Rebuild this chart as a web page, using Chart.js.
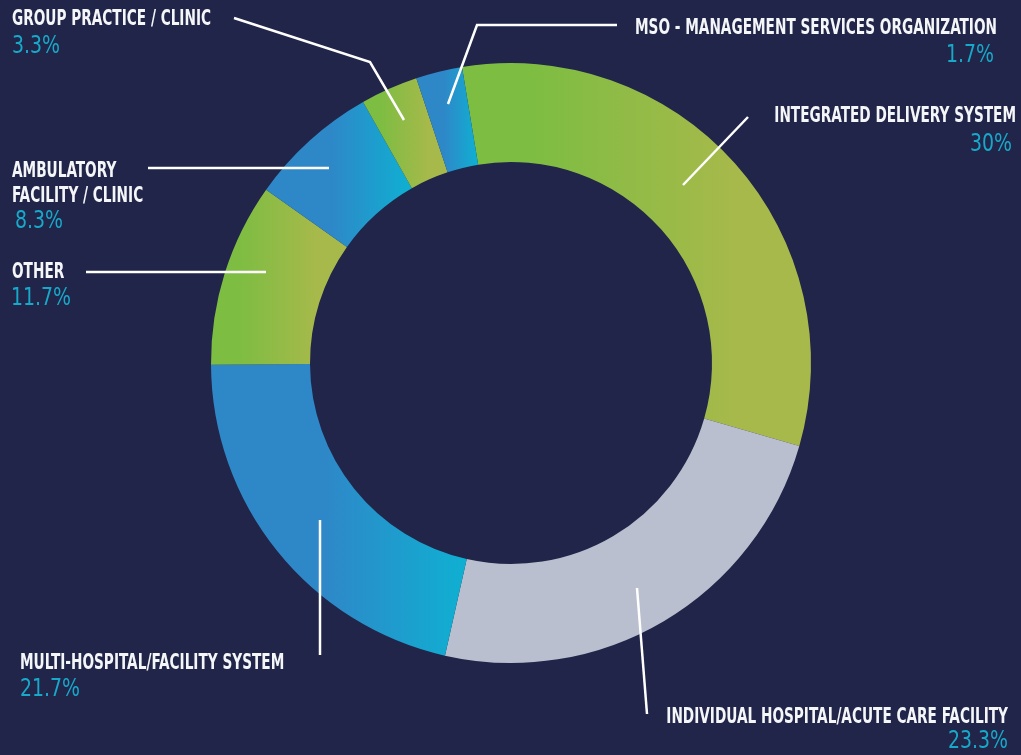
<!DOCTYPE html>
<html>
<head>
<meta charset="utf-8">
<script src="https://cdn.jsdelivr.net/npm/chart.js@4"></script>
<style>
  html, body { margin: 0; padding: 0; background: #21254a; }
  canvas { display: block; }
</style>
</head>
<body>
<canvas id="donut" width="1021" height="755"></canvas>
<script>
// categories, clockwise from the top
const categories = [
  "INTEGRATED DELIVERY SYSTEM",
  "INDIVIDUAL HOSPITAL/ACUTE CARE FACILITY",
  "MULTI-HOSPITAL/FACILITY SYSTEM",
  "OTHER",
  "AMBULATORY\nFACILITY / CLINIC",
  "GROUP PRACTICE / CLINIC",
  "MSO - MANAGEMENT SERVICES ORGANIZATION"
];
// printed percentages
const pctLabels = ["30%", "23.3%", "21.7%", "11.7%", "8.3%", "3.3%", "1.7%"];
const arcShares = [32.1, 24.1, 21.4, 9.9, 7.0, 3.1, 2.5];

// fills: left-to-right gradient [colour, colour, where it starts, where it ends] or flat
const GREEN = ["#7dbd42", "#a8b94b", 0.2, 0.8];
const BLUE = ["#2e88c8", "#0fb0d2", 0.45, 1];
const fills = [GREEN, "#b9bfce", BLUE, GREEN, BLUE, GREEN, BLUE];

// label layout: text anchor, percent anchor, leader line
const layout = [
  { x: 1016, y: 122, align: "right", px: 1012, py: 151, leader: [[748, 117], [683, 185]] },
  { x: 1008, y: 723, align: "right", px: 1008, py: 748, leader: [[637, 588], [647, 714]] },
  { x: 20, y: 669, align: "left", px: 20, py: 696, leader: [[320, 520], [320, 655]] },
  { x: 12, y: 278, align: "left", px: 11, py: 305, leader: [[86, 272], [266, 272]] },
  { x: 12, y: 177, align: "left", px: 15, py: 228, leader: [[148, 168], [329, 168]] },
  { x: 12, y: 25, align: "left", px: 12, py: 53, leader: [[234, 18], [370, 62], [404, 120]] },
  { x: 997, y: 34, align: "right", px: 994, py: 62, leader: [[617, 25], [477, 25], [448, 104]] }
];

const FAMILY = '"Liberation Sans Narrow", "DejaVu Sans Condensed", "Noto Sans", sans-serif';

function arcFill(c) {
  const f = fills[c.dataIndex];
  if (!Array.isArray(f)) return f;
  const el = c.chart.getDatasetMeta(0).data[c.dataIndex];
  if (!el || el.startAngle === undefined) return f[0];
  let minX = Infinity, maxX = -Infinity;
  for (let k = 0; k <= 60; k++) {
    const a = el.startAngle + (el.endAngle - el.startAngle) * k / 60;
    for (const r of [el.innerRadius, el.outerRadius]) {
      const px = el.x + Math.cos(a) * r;
      minX = Math.min(minX, px);
      maxX = Math.max(maxX, px);
    }
  }
  const g = c.chart.ctx.createLinearGradient(minX, 0, maxX, 0);
  g.addColorStop(0, f[0]);
  g.addColorStop(f[2], f[0]);
  g.addColorStop(f[3], f[1]);
  g.addColorStop(1, f[1]);
  return g;
}

// draws leader lines and the text labels
const calloutPlugin = {
  id: "callouts",
  afterDraw(chart) {
    const ctx = chart.ctx;
    ctx.save();
    // narrow the type to the width it has in the picture
    ctx.font = "bold 21px " + FAMILY;
    const sq = 199 / ctx.measureText("GROUP PRACTICE / CLINIC").width;
    ctx.font = "24px " + FAMILY;
    const sqPct = 60 / ctx.measureText("11.7%").width;

    layout.forEach((L, i) => {
      ctx.strokeStyle = "#ffffff";
      ctx.lineWidth = 2.5;
      ctx.beginPath();
      L.leader.forEach((p, k) => (k ? ctx.lineTo(p[0], p[1]) : ctx.moveTo(p[0], p[1])));
      ctx.stroke();

      ctx.textAlign = L.align;
      ctx.textBaseline = "alphabetic";
      ctx.fillStyle = "#f5f6f8";
      ctx.font = "bold 21px " + FAMILY;
      categories[i].split("\n").forEach((line, j) => {
        ctx.save();
        ctx.translate(L.x, L.y + j * 25);
        ctx.scale(sq, 1);
        ctx.fillText(line, 0, 0);
        ctx.restore();
      });
      ctx.fillStyle = "#18a9c9";
      ctx.font = "24px " + FAMILY;
      ctx.save();
      ctx.translate(L.px, L.py);
      ctx.scale(sqPct, 1);
      ctx.fillText(pctLabels[i], 0, 0);
      ctx.restore();
    });
    ctx.restore();
  }
};

const chart = new Chart(document.getElementById("donut"), {
  type: "doughnut",
  data: {
    labels: categories,
    datasets: [{
      data: arcShares,
      backgroundColor: arcFill,
      borderWidth: 0
    }]
  },
  options: {
    responsive: false,
    animation: false,
    rotation: -9.4,
    cutout: "67%",
    layout: { padding: { top: 63, bottom: 92, left: 1, right: 0 } },
    plugins: {
      legend: { display: false },
      tooltip: { enabled: false }
    }
  },
  plugins: [calloutPlugin]
});
chart.update("none");
</script>
</body>
</html>
